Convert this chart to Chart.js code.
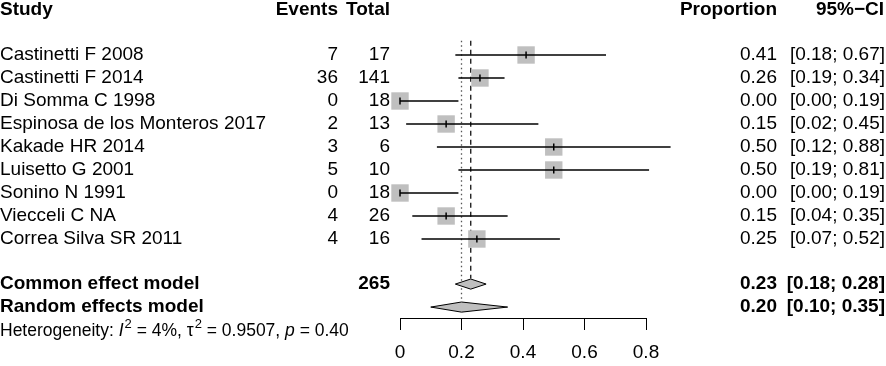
<!DOCTYPE html>
<html>
<head>
<meta charset="utf-8">
<script src="https://cdn.jsdelivr.net/npm/chart.js@4"></script>
<style>
  body { margin: 0; background: #fff; }
</style>
</head>
<body>
<canvas id="forest" width="886" height="366"></canvas>
<script>
// study data
const studies = ['Castinetti F 2008', 'Castinetti F 2014', 'Di Somma C 1998', 'Espinosa de los Monteros 2017',
  'Kakade HR 2014', 'Luisetto G 2001', 'Sonino N 1991', 'Viecceli C NA', 'Correa Silva SR 2011'];
const events = [7, 36, 0, 2, 3, 5, 0, 4, 4];
const totals = [17, 141, 18, 13, 6, 10, 18, 26, 16];
const props = [0.41, 0.26, 0.00, 0.15, 0.50, 0.50, 0.00, 0.15, 0.25];
const lower = [0.18, 0.19, 0.00, 0.02, 0.12, 0.19, 0.00, 0.04, 0.07];
const upper = [0.67, 0.34, 0.19, 0.45, 0.88, 0.81, 0.19, 0.35, 0.52];

// pooled estimates
const modelNames = ['Common effect model', 'Random effects model'];
const modelEst = [0.23, 0.20];
const modelLower = [0.18, 0.10];
const modelUpper = [0.28, 0.35];
const totalN = 265;

const xTicks = [0, 0.2, 0.4, 0.6, 0.8];
const xTickLabels = ['0', '0.2', '0.4', '0.6', '0.8'];

const FONT = "'Liberation Sans', Arial, sans-serif";
const GRAY = '#bfbfbf';

// row index for each line of the plot
const studyRows = studies.map((s, i) => i);
const modelRows = [9.96, 10.96];
const headerRow = -1.96;
const hetRow = 12.0;

let datasets = [];

// reference lines
datasets.push({
  type: 'line',
  data: [{x: modelEst[0], y: -0.62}, {x: modelEst[0], y: modelRows[0] - 0.24}],
  borderColor: '#222', borderWidth: 1.4, borderDash: [5, 4],
  pointRadius: 0, order: 6, clip: false
});
datasets.push({
  type: 'line',
  data: [{x: modelEst[1], y: -0.62}, {x: modelEst[1], y: modelRows[1] - 0.24}],
  borderColor: '#555', borderWidth: 1.3, borderDash: [1.5, 3],
  pointRadius: 0, order: 6, clip: false
});

// squares
datasets.push({
  type: 'scatter',
  data: props.map((p, i) => ({x: p, y: studyRows[i]})),
  pointStyle: 'rect', pointRadius: 12.3, backgroundColor: GRAY, borderWidth: 0,
  order: 5, clip: false
});

// CI lines
studies.forEach((s, i) => {
  datasets.push({
    type: 'line',
    data: [{x: lower[i], y: studyRows[i]}, {x: upper[i], y: studyRows[i]}],
    borderColor: '#000', borderWidth: 1.3, pointRadius: 0, order: 4, clip: false
  });
});

// estimate ticks
datasets.push({
  type: 'scatter',
  data: props.map((p, i) => ({x: p, y: studyRows[i]})),
  pointStyle: 'line', rotation: 90, pointRadius: 3.5,
  borderColor: '#000', borderWidth: 1.5, order: 3, clip: false
});

// diamonds
modelEst.forEach((m, i) => {
  const r = modelRows[i], h = 0.22;
  datasets.push({
    type: 'line',
    data: [{x: modelLower[i], y: r}, {x: m, y: r - h}, {x: modelUpper[i], y: r}, {x: m, y: r + h}, {x: modelLower[i], y: r}],
    borderColor: '#000', borderWidth: 1, backgroundColor: GRAY, fill: 'shape',
    pointRadius: 0, tension: 0, order: 1, clip: false
  });
});

const textPlugin = {
  id: 'forestText',
  afterDraw(chart) {
    const ctx = chart.ctx;
    const ys = chart.scales.y;
    ctx.save();
    ctx.fillStyle = '#000';
    ctx.textBaseline = 'middle';
    function put(t, x, row, align, bold, size) {
      ctx.font = (bold ? 'bold ' : '') + (size || 19) + 'px ' + FONT;
      ctx.textAlign = align;
      ctx.fillText(t, x, ys.getPixelForValue(row));
    }
    // headers
    put('Study', 0, headerRow, 'left', true);
    put('Events', 338, headerRow, 'right', true);
    put('Total', 390, headerRow, 'right', true);
    put('Proportion', 777, headerRow, 'right', true);
    put('95%\u2212CI', 884, headerRow, 'right', true);

    studies.forEach((s, i) => {
      const r = studyRows[i];
      put(s, 0, r, 'left');
      put(String(events[i]), 338, r, 'right');
      put(String(totals[i]), 390, r, 'right');
      put(props[i].toFixed(2), 777, r, 'right');
      put('[' + lower[i].toFixed(2) + '; ' + upper[i].toFixed(2) + ']', 885, r, 'right');
    });

    modelNames.forEach((n, i) => {
      const r = modelRows[i];
      put(n, 0, r, 'left', true);
      if (i === 0) put(String(totalN), 390, r, 'right', true);
      put(modelEst[i].toFixed(2), 777, r, 'right', true);
      put('[' + modelLower[i].toFixed(2) + '; ' + modelUpper[i].toFixed(2) + ']', 885, r, 'right', true);
    });

    // heterogeneity line
    const y = ys.getPixelForValue(hetRow);
    let x = 0;
    ctx.textAlign = 'left';
    const parts = [
      ['Heterogeneity: ', ''], ['I', 'italic '], ['2', 'sup'], [' = 4%, \u03c4', ''], ['2', 'sup'],
      [' = 0.9507, ', ''], ['p', 'italic '], [' = 0.40', '']
    ];
    parts.forEach(([t, st]) => {
      if (st === 'sup') {
        ctx.font = '13px ' + FONT;
        ctx.fillText(t, x + 1, y - 7);
        x += ctx.measureText(t).width + 1;
      } else {
        ctx.font = st + '17.5px ' + FONT;
        ctx.fillText(t, x, y);
        x += ctx.measureText(t).width;
      }
    });
    ctx.restore();
  }
};

new Chart(document.getElementById('forest'), {
  type: 'scatter',
  data: { datasets: datasets },
  options: {
    responsive: false,
    devicePixelRatio: 1,
    animation: false,
    layout: { autoPadding: false, padding: { left: 400, right: 240, top: 0, bottom: 0 } },
    plugins: { legend: { display: false }, tooltip: { enabled: false } },
    scales: {
      x: {
        type: 'linear', min: 0, max: 0.8,
        afterBuildTicks: s => { s.ticks = xTicks.map(v => ({value: v})); },
        afterFit: s => { s.height = 48; },
        grid: { drawOnChartArea: false, drawTicks: true, tickLength: 12, color: '#000', lineWidth: 1 },
        border: { display: true, color: '#000', width: 1 },
        ticks: {
          color: '#000', padding: 11, maxRotation: 0, autoSkip: false,
          font: { family: FONT, size: 19 },
          callback: (v, i) => xTickLabels[i]
        }
      },
      y: {
        type: 'linear', min: -2.391, max: 11.435, reverse: true, display: false
      }
    }
  },
  plugins: [textPlugin]
});
</script>
</body>
</html>
